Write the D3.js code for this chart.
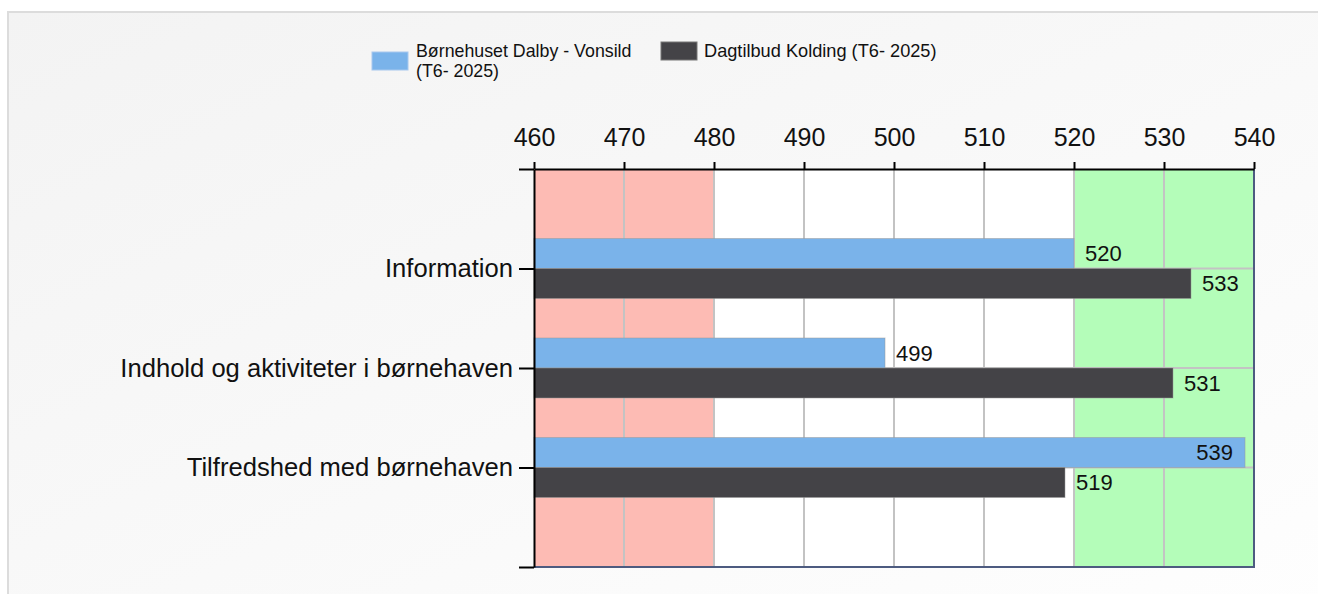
<!DOCTYPE html>
<html>
<head>
<meta charset="utf-8">
<script src="https://cdn.jsdelivr.net/npm/d3@7"></script>
<style>
  html, body { margin: 0; padding: 0; background: #ffffff; }
  svg { display: block; font-family: "Liberation Sans", Arial, sans-serif; }
</style>
</head>
<body>
<svg id="chart" width="1318" height="594"></svg>
<script>
// data
var categories = ["Information", "Indhold og aktiviteter i børnehaven", "Tilfredshed med børnehaven"];
var seriesNames = ["Børnehuset Dalby - Vonsild\n(T6- 2025)", "Dagtilbud Kolding (T6- 2025)"];
var dalbyValues = [520, 499, 539];
var koldingValues = [533, 531, 519];
var xTicks = [460, 470, 480, 490, 500, 510, 520, 530, 540];
var bands = [
  { from: 460, to: 480, color: "#fdbbb4" },
  { from: 520, to: 540, color: "#b4fdb9" }
];
var seriesColors = ["#7ab3ea", "#444347"];

var svg = d3.select("#chart");

// panel background
var defs = svg.append("defs");
var grad = defs.append("linearGradient").attr("id", "panelGrad")
  .attr("x1", "0").attr("y1", "0").attr("x2", "1").attr("y2", "1");
grad.append("stop").attr("offset", "0%").attr("stop-color", "#f3f3f3");
grad.append("stop").attr("offset", "100%").attr("stop-color", "#fefefe");

svg.append("rect")
  .attr("x", 8).attr("y", 12).attr("width", 1330).attr("height", 600)
  .attr("fill", "url(#panelGrad)")
  .attr("stroke", "#dcdcdc").attr("stroke-width", 2);

// scales
var x = d3.scaleLinear().domain([460, 540]).range([534, 1254]);
var y = d3.scaleLinear().domain([0, categories.length + 1]).range([169, 567]);
var barH = 30;

var plot = svg.append("g");

// plot background + bands
plot.append("rect")
  .attr("x", x(460)).attr("y", y(0))
  .attr("width", x(540) - x(460)).attr("height", y(4) - y(0))
  .attr("fill", "#ffffff");

plot.selectAll(".band").data(bands).enter().append("rect")
  .attr("class", "band")
  .attr("x", function (d) { return x(d.from); })
  .attr("y", y(0))
  .attr("width", function (d) { return x(d.to) - x(d.from); })
  .attr("height", y(4) - y(0))
  .attr("fill", function (d) { return d.color; });

// gridlines
plot.selectAll(".vgrid").data(xTicks.slice(1, -1)).enter().append("line")
  .attr("x1", function (d) { return x(d); }).attr("x2", function (d) { return x(d); })
  .attr("y1", y(0)).attr("y2", y(4))
  .attr("stroke", "#c3c3c3").attr("stroke-width", 2);

plot.selectAll(".hgrid").data([1, 2, 3]).enter().append("line")
  .attr("x1", x(460)).attr("x2", x(540))
  .attr("y1", function (d) { return y(d); }).attr("y2", function (d) { return y(d); })
  .attr("stroke", "#c3c3c3").attr("stroke-width", 2);

// bars
var rows = [];
categories.forEach(function (c, i) {
  rows.push({ cat: i + 1, s: 0, v: dalbyValues[i] });
  rows.push({ cat: i + 1, s: 1, v: koldingValues[i] });
});

plot.selectAll(".bar").data(rows).enter().append("rect")
  .attr("class", "bar")
  .attr("x", x(460))
  .attr("y", function (d) { return y(d.cat) - barH + d.s * barH; })
  .attr("width", function (d) { return x(d.v) - x(460); })
  .attr("height", barH)
  .attr("fill", function (d) { return seriesColors[d.s]; })
  .attr("stroke", "#9a9a9a").attr("stroke-opacity", 0.5).attr("stroke-width", 1);

// value labels
plot.selectAll(".val").data(rows).enter().append("text")
  .attr("class", "val")
  .attr("y", function (d) { return y(d.cat) - barH / 2 + d.s * barH; })
  .attr("dy", "0.36em")
  .attr("font-size", 22)
  .attr("fill", "#111")
  .text(function (d) { return d3.format("d")(d.v); })
  .each(function (d) {
    var w = this.getComputedTextLength();
    var sel = d3.select(this);
    if (x(d.v) + 10 + w > x(540) - 4) {
      sel.attr("x", x(d.v) - 12).attr("text-anchor", "end");
    } else {
      sel.attr("x", x(d.v) + 11).attr("text-anchor", "start");
    }
  });

// right + bottom border
plot.append("line")
  .attr("x1", x(540)).attr("x2", x(540)).attr("y1", y(0)).attr("y2", y(4) + 1)
  .attr("stroke", "#4d5b80").attr("stroke-width", 2);
plot.append("line")
  .attr("x1", x(460)).attr("x2", x(540) + 1).attr("y1", y(4)).attr("y2", y(4))
  .attr("stroke", "#4d5b80").attr("stroke-width", 2);

// top axis
var topAxis = svg.append("g")
  .attr("transform", "translate(0," + y(0) + ")")
  .call(d3.axisTop(x).tickValues(xTicks).tickSize(7).tickSizeOuter(0).tickPadding(16));
topAxis.select(".domain").attr("stroke", "#000").attr("stroke-width", 2);
topAxis.selectAll(".tick line").attr("stroke", "#000").attr("stroke-width", 2);
topAxis.selectAll(".tick text")
  .attr("font-size", 25).attr("fill", "#111")
  .attr("font-family", "Liberation Sans, Arial, sans-serif");

// left axis
var leftAxis = svg.append("g")
  .attr("transform", "translate(" + x(460) + ",0)")
  .call(d3.axisLeft(y).tickValues([0, 1, 2, 3, 4]).tickSize(15).tickSizeOuter(0).tickPadding(6)
    .tickFormat(function (d) { return categories[d - 1] || ""; }));
leftAxis.select(".domain").attr("stroke", "#000").attr("stroke-width", 2);
leftAxis.selectAll(".tick line").attr("stroke", "#000").attr("stroke-width", 2);
leftAxis.selectAll(".tick text")
  .attr("font-size", 25.6).attr("fill", "#111")
  .attr("font-family", "Liberation Sans, Arial, sans-serif");

// legend
var legend = svg.append("g").attr("fill", "#111");
var l0 = legend.append("g");
l0.append("rect").attr("x", 372).attr("y", 52).attr("width", 36).attr("height", 18)
  .attr("fill", seriesColors[0]).attr("stroke", "#a8c8ee").attr("stroke-width", 1);
var t0 = l0.append("text").attr("x", 416).attr("y", 57).attr("font-size", 17.8);
seriesNames[0].split("\n").forEach(function (line, i) {
  t0.append("tspan").attr("x", 416).attr("dy", i === 0 ? 0 : 20).text(line);
});

var l1 = legend.append("g");
l1.append("rect").attr("x", 661).attr("y", 42).attr("width", 36).attr("height", 18)
  .attr("fill", seriesColors[1]).attr("stroke", "#777").attr("stroke-width", 1);
l1.append("text").attr("x", 704).attr("y", 57).attr("font-size", 18.2).text(seriesNames[1]);
</script>
</body>
</html>
